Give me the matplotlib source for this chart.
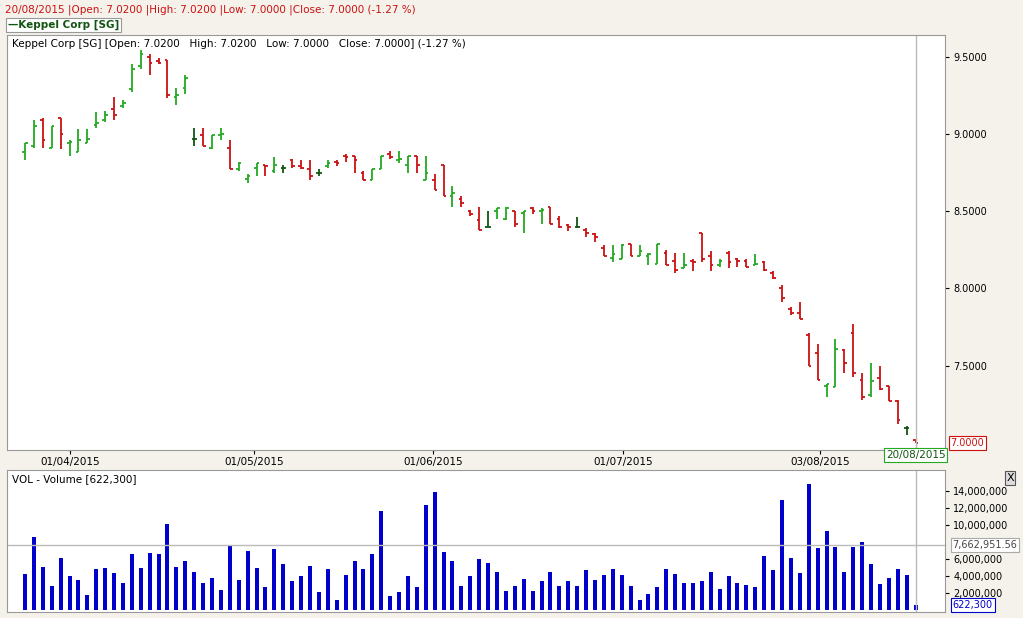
import matplotlib
matplotlib.use('Agg')
from matplotlib import pyplot as plt
import numpy as np

# OHLC (101 sessions, 25/03/2015 .. 20/08/2015)
opens = [8.88, 8.92, 9.09, 8.91, 9.10, 8.94, 8.88, 8.94, 9.06, 9.09,
         9.16, 9.18, 9.29, 9.44, 9.50, 9.47, 9.48, 9.24, 9.30, 8.97,
         8.99, 8.91, 8.99, 8.91, 8.77, 8.71, 8.78, 8.80, 8.76, 8.78,
         8.83, 8.79, 8.77, 8.75, 8.79, 8.82, 8.86, 8.86, 8.75, 8.70,
         8.77, 8.87, 8.83, 8.80, 8.86, 8.70, 8.70, 8.80, 8.60, 8.58,
         8.50, 8.44, 8.40, 8.50, 8.45, 8.50, 8.49, 8.52, 8.50, 8.53,
         8.45, 8.41, 8.40, 8.38, 8.35, 8.26, 8.20, 8.19, 8.29, 8.21,
         8.21, 8.16, 8.23, 8.18, 8.13, 8.18, 8.36, 8.21, 8.15, 8.23,
         8.19, 8.18, 8.15, 8.17, 8.10, 8.00, 7.87, 7.84, 7.70, 7.58,
         7.37, 7.36, 7.60, 7.71, 7.41, 7.31, 7.42, 7.37, 7.27, 7.10,
         7.02]
highs = [8.94, 9.09, 9.10, 9.05, 9.10, 8.96, 9.03, 9.03, 9.14, 9.15,
         9.24, 9.22, 9.45, 9.54, 9.52, 9.49, 9.48, 9.30, 9.38, 9.04,
         9.04, 8.99, 9.04, 8.96, 8.82, 8.74, 8.81, 8.80, 8.85, 8.80,
         8.84, 8.83, 8.83, 8.77, 8.83, 8.83, 8.87, 8.86, 8.76, 8.77,
         8.86, 8.89, 8.89, 8.86, 8.86, 8.86, 8.74, 8.80, 8.66, 8.60,
         8.51, 8.53, 8.50, 8.52, 8.53, 8.50, 8.50, 8.53, 8.52, 8.53,
         8.47, 8.42, 8.46, 8.39, 8.36, 8.28, 8.28, 8.29, 8.29, 8.28,
         8.23, 8.29, 8.25, 8.23, 8.23, 8.19, 8.36, 8.24, 8.19, 8.24,
         8.20, 8.19, 8.22, 8.18, 8.11, 8.02, 7.88, 7.91, 7.71, 7.64,
         7.38, 7.67, 7.61, 7.77, 7.45, 7.52, 7.50, 7.37, 7.28, 7.11,
         7.02]
lows = [8.83, 8.91, 8.91, 8.91, 8.90, 8.86, 8.88, 8.94, 9.04, 9.08,
        9.09, 9.17, 9.27, 9.42, 9.38, 9.45, 9.23, 9.19, 9.26, 8.92,
        8.92, 8.90, 8.96, 8.77, 8.76, 8.68, 8.73, 8.73, 8.75, 8.75,
        8.78, 8.77, 8.70, 8.73, 8.78, 8.79, 8.82, 8.75, 8.70, 8.70,
        8.77, 8.84, 8.81, 8.75, 8.75, 8.70, 8.64, 8.60, 8.53, 8.53,
        8.47, 8.38, 8.40, 8.45, 8.44, 8.40, 8.36, 8.48, 8.42, 8.42,
        8.39, 8.37, 8.39, 8.33, 8.30, 8.21, 8.17, 8.19, 8.21, 8.21,
        8.15, 8.16, 8.15, 8.10, 8.13, 8.11, 8.17, 8.11, 8.14, 8.13,
        8.14, 8.14, 8.15, 8.11, 8.06, 7.91, 7.83, 7.80, 7.50, 7.41,
        7.30, 7.36, 7.45, 7.43, 7.28, 7.30, 7.34, 7.27, 7.12, 7.05,
        7.00]
closes = [8.94, 9.05, 8.96, 9.05, 9.00, 8.95, 8.96, 8.97, 9.07, 9.12,
          9.12, 9.20, 9.42, 9.52, 9.46, 9.46, 9.25, 9.25, 9.36, 8.97,
          8.92, 8.99, 9.00, 8.77, 8.81, 8.73, 8.81, 8.79, 8.80, 8.78,
          8.79, 8.78, 8.73, 8.75, 8.81, 8.81, 8.85, 8.83, 8.70, 8.77,
          8.86, 8.85, 8.84, 8.86, 8.80, 8.75, 8.64, 8.60, 8.62, 8.55,
          8.48, 8.38, 8.40, 8.52, 8.52, 8.42, 8.50, 8.50, 8.51, 8.42,
          8.40, 8.40, 8.40, 8.36, 8.33, 8.21, 8.22, 8.28, 8.21, 8.24,
          8.22, 8.29, 8.15, 8.12, 8.15, 8.17, 8.19, 8.15, 8.18, 8.17,
          8.18, 8.14, 8.16, 8.12, 8.07, 7.94, 7.84, 7.80, 7.50, 7.41,
          7.38, 7.61, 7.52, 7.45, 7.30, 7.40, 7.35, 7.27, 7.15, 7.10,
          7.00]
# volume, millions
volume = [4.3, 8.6, 5.1, 2.8, 6.1, 4.0, 3.6, 1.8, 4.9, 5.0,
          4.4, 3.2, 6.6, 5.0, 6.7, 6.6, 10.2, 5.1, 5.8, 4.5,
          3.2, 3.8, 2.4, 7.6, 3.6, 7.0, 5.0, 2.7, 7.2, 5.5,
          3.4, 4.0, 5.2, 2.2, 4.9, 1.2, 4.2, 5.8, 4.9, 6.6,
          11.7, 1.7, 2.2, 4.0, 2.7, 12.4, 13.9, 6.9, 5.8, 2.9,
          4.0, 6.0, 5.6, 4.5, 2.3, 2.8, 3.7, 2.3, 3.4, 4.5,
          2.9, 3.4, 2.8, 4.7, 3.6, 4.2, 4.8, 4.1, 2.9, 1.2,
          1.9, 2.7, 4.9, 4.3, 3.2, 3.2, 3.5, 4.5, 2.5, 4.0,
          3.2, 3.0, 2.7, 6.4, 4.7, 13.0, 6.2, 4.4, 14.9, 7.3,
          9.3, 7.5, 4.5, 7.5, 8.0, 5.4, 3.1, 3.8, 4.8, 4.1,
          0.6223]
date_labels = ['01/04/2015', '01/05/2015', '01/06/2015', '01/07/2015', '03/08/2015']
date_pos = [5.1, 25.7, 45.8, 67.2, 89.3]
price_ticks = [7.5, 8.0, 8.5, 9.0, 9.5]
vol_ticks = [2, 4, 6, 10, 12, 14]
vol_avg = 7.66295156

bg = '#F4F2EA'
green = '#22AA22'
red = '#CC1111'
dark_green = '#115511'
blue = '#0000CC'

fig = plt.figure(figsize=(10.23, 6.18), dpi=100, facecolor=bg)
ax = fig.add_axes([7/1023, 1-450/618, 938/1023, 415/618])
axv = fig.add_axes([7/1023, 1-612/618, 938/1023, 142/618])

x = np.arange(len(opens))
for i in x:
    o, h, l, c = opens[i], highs[i], lows[i], closes[i]
    col = green if c > o else (red if c < o else dark_green)
    ax.vlines(i, l, h, color=col, lw=1.3)
    ax.hlines(o, i - 0.3, i, color=col, lw=1.3)
    ax.hlines(c, i, i + 0.3, color=col, lw=1.3)

axv.bar(x, volume, width=0.45, color=blue)

last = len(opens) - 1
for a in (ax, axv):
    a.set_xlim(-2.02, 103.3)
    a.set_facecolor('white')
    a.yaxis.tick_right()
    a.tick_params(axis='y', labelsize=7, length=3, pad=3)
    a.tick_params(axis='x', labelsize=7.5, length=3, pad=2)
    for s in a.spines.values():
        s.set_color('#999999')
    a.axvline(last, color='#BBBBBB', lw=1)

ax.set_ylim(6.955, 9.64)
ax.set_yticks(price_ticks)
ax.set_yticklabels([f'{t:.4f}' for t in price_ticks])
ax.set_xticks(date_pos)
ax.set_xticklabels(date_labels)
ax.text(0.005, 0.99, 'Keppel Corp [SG] [Open: 7.0200   High: 7.0200   Low: 7.0000   Close: 7.0000] (-1.27 %)',
        transform=ax.transAxes, fontsize=7.5, va='top')
ax.text(1.006, (7.0 - 6.955) / (9.64 - 6.955), '7.0000', transform=ax.transAxes,
        fontsize=7, color=red, va='center',
        bbox=dict(boxstyle='square,pad=0.2', fc='white', ec=red, lw=0.8))
ax.text(last, 6.955, '20/08/2015', fontsize=7.5, color=dark_green, ha='center', va='top',
        bbox=dict(boxstyle='square,pad=0.15', fc='white', ec=green, lw=0.8))

axv.set_ylim(-0.2, 16.5)
axv.set_yticks(vol_ticks)
axv.set_yticklabels([f'{t * 1000000:,.0f}' for t in vol_ticks])
axv.set_xticks([])
axv.axhline(vol_avg, color='#BBBBBB', lw=1, clip_on=False)
axv.text(0.005, 0.97, 'VOL - Volume [622,300]', transform=axv.transAxes, fontsize=7.5, va='top')
axv.text(1.008, (vol_avg + 0.2) / 16.7, '7,662,951.56', transform=axv.transAxes,
         fontsize=7, color='#444444', va='center',
         bbox=dict(boxstyle='square,pad=0.2', fc='white', ec='#AAAAAA', lw=0.8))
axv.text(1.008, (0.6223 + 0.2) / 16.7, '622,300', transform=axv.transAxes,
         fontsize=7, color=blue, va='center',
         bbox=dict(boxstyle='square,pad=0.2', fc='white', ec=blue, lw=0.8))

fig.text(5/1023, 1-10/618, '20/08/2015 |Open: 7.0200 |High: 7.0200 |Low: 7.0000 |Close: 7.0000 (-1.27 %)',
         fontsize=7.5, color=red, va='center')
fig.text(8/1023, 1-25/618, '\u2014Keppel Corp [SG]', fontsize=7.5, color=dark_green,
         fontweight='bold', va='center',
         bbox=dict(boxstyle='square,pad=0.2', fc='white', ec='#999999', lw=0.8))
fig.text(1010/1023, 1-478/618, 'X', fontsize=8, ha='center', va='center',
         bbox=dict(boxstyle='square,pad=0.15', fc='#DDDDDD', ec='#555555', lw=0.8))

plt.savefig('out.png', dpi=100, facecolor=bg)
